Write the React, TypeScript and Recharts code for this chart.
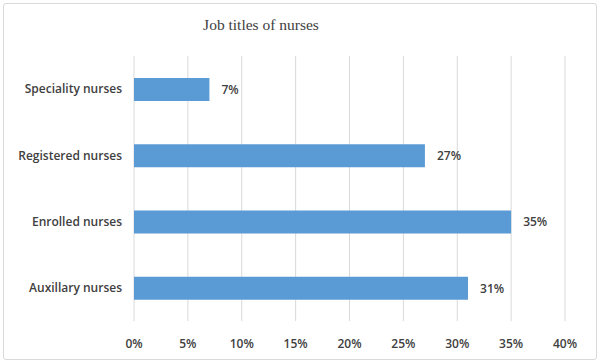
import React from 'react';
import { BarChart, Bar, XAxis, YAxis, CartesianGrid, LabelList } from 'recharts';

const categories = ['Speciality nurses', 'Registered nurses', 'Enrolled nurses', 'Auxillary nurses'];
const shares = [7, 27, 35, 31];
const xTicks = [0, 5, 10, 15, 20, 25, 30, 35, 40];

const data = categories.map((name, i) => ({ name, value: shares[i] }));

const labelFont = { fontFamily: 'Open Sans', fontSize: 12, fontWeight: 600, fill: '#404040' };

export default function App() {
  return (
    <div style={{ position: 'absolute', left: 0, top: 0, width: 600, height: 363, background: '#fff' }}>
      <div
        style={{
          position: 'absolute', left: 3, top: 3, width: 592, height: 355,
          border: '1px solid #d9d9d9', borderRadius: 3,
        }}
      />
      <div
        style={{
          position: 'absolute', left: 161, top: 16, width: 200, textAlign: 'center',
          fontFamily: 'Liberation Serif', fontSize: 15.5, color: '#404040',
        }}
      >
        Job titles of nurses
      </div>
      <BarChart
        width={600}
        height={363}
        data={data}
        layout="vertical"
        margin={{ top: 56, right: 35, bottom: 12, left: 0 }}
        style={{ position: 'absolute', left: 0, top: 0 }}
      >
        <CartesianGrid horizontal={false} stroke="#d9d9d9" />
        <XAxis
          type="number"
          domain={[0, 40]}
          ticks={xTicks}
          tickFormatter={(v) => `${v}%`}
          axisLine={false}
          tickLine={false}
          tickMargin={12}
          tick={labelFont}
          interval={0}
        />
        <YAxis
          type="category"
          dataKey="name"
          width={134}
          axisLine={false}
          tickLine={false}
          tickMargin={6}
          tick={labelFont}
        />
        <Bar dataKey="value" fill="#5b9bd5" barSize={23} isAnimationActive={false}>
          <LabelList
            dataKey="value"
            position="right"
            offset={12}
            formatter={(v: number) => `${v}%`}
            style={labelFont}
          />
        </Bar>
      </BarChart>
    </div>
  );
}
